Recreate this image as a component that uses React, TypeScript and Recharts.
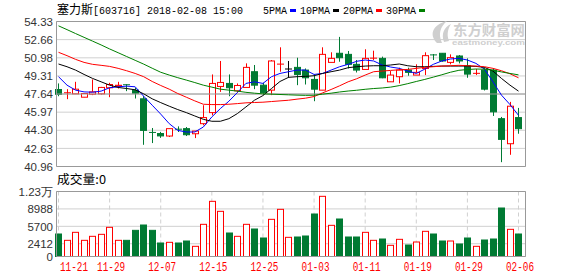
import React from "react";
import {
	ComposedChart,
	Bar,
	Line,
	XAxis,
	YAxis,
	CartesianGrid,
	ReferenceLine,
} from "recharts";

// trading days shown on the chart
const DATES = [
	"11-21", "11-22", "11-23", "11-24", "11-27", "11-28", "11-29", "11-30", "12-01", "12-04",
	"12-05", "12-06", "12-07", "12-08", "12-11", "12-12", "12-13", "12-14", "12-15", "12-18",
	"12-19", "12-20", "12-21", "12-22", "12-25", "12-26", "12-27", "12-28", "12-29", "01-02",
	"01-03", "01-04", "01-05", "01-08", "01-09", "01-10", "01-11", "01-12", "01-15", "01-16",
	"01-17", "01-18", "01-19", "01-22", "01-23", "01-24", "01-25", "01-26", "01-29", "01-30",
	"01-31", "02-01", "02-02", "02-05", "02-06",
];

const OPEN = [
	48.06, 47.7, 47.66, 47.35, 47.63, 47.66, 48.22, 48.35, 48.5, 48.0,
	47.2, 44.1, 44.0, 43.77, 44.4, 44.45, 43.98, 44.91, 45.93, 48.34,
	48.62, 47.94, 48.25, 49.7, 48.46, 48.0, 50.35, 49.95, 50.1, 49.85,
	48.99, 48.0, 50.56, 51.4, 51.3, 50.38, 49.91, 50.9, 50.93, 48.77,
	49.24, 49.85, 49.39, 50.0, 51.25, 51.4, 50.56, 51.15, 50.25, 49.5,
	49.85, 49.85, 45.37, 43.06, 45.47,
];
const HIGH = [
	48.62, 48.09, 48.77, 47.69, 48.99, 48.3, 48.68, 48.77, 48.55, 48.22,
	47.45, 44.51, 44.15, 44.45, 44.66, 44.6, 44.23, 46.61, 49.45, 50.69,
	49.45, 48.62, 50.47, 50.32, 48.68, 50.78, 51.95, 50.69, 50.99, 50.0,
	49.45, 51.95, 51.49, 52.91, 51.61, 50.78, 51.77, 51.64, 51.09, 49.76,
	50.07, 50.07, 50.38, 51.49, 51.33, 51.4, 51.3, 51.24, 50.93, 49.94,
	50.1, 50.01, 45.53, 46.92, 46.36,
];
const LOW = [
	47.44, 47.17, 47.66, 47.35, 47.54, 47.6, 47.35, 48.15, 47.91, 47.23,
	42.96, 43.12, 43.6, 43.68, 44.14, 43.77, 43.58, 44.76, 45.68, 47.84,
	47.44, 47.78, 48.25, 48.09, 47.54, 47.54, 49.7, 49.14, 48.46, 48.52,
	46.98, 48.0, 50.56, 50.62, 50.0, 49.63, 49.91, 50.78, 49.1, 48.77,
	48.62, 49.33, 49.39, 49.39, 50.78, 50.62, 50.38, 50.47, 49.14, 49.39,
	47.97, 45.62, 41.36, 42.04, 43.98,
];
const CLOSE = [
	47.62, 47.76, 48.09, 47.69, 47.84, 48.25, 48.52, 48.45, 48.45, 47.72,
	44.29, 44.05, 43.78, 44.45, 44.35, 43.89, 44.23, 45.47, 48.62, 48.71,
	48.22, 48.43, 50.1, 48.46, 47.78, 50.69, 50.4, 49.95, 49.45, 49.14,
	48.09, 51.3, 50.93, 50.99, 50.38, 49.85, 50.93, 50.95, 49.14, 49.39,
	49.85, 49.64, 49.64, 51.18, 51.2, 50.69, 51.0, 50.69, 49.48, 49.55,
	48.09, 46.0, 43.46, 46.52, 44.45,
];
const VOLUME = [
	4249, 3054, 4565, 3054, 3809, 4187, 5509, 3054, 3054, 4942,
	5949, 4942, 2550, 2676, 2550, 2927, 1921, 6076, 10419, 8531,
	4438, 3809, 6076, 5194, 3494, 7020, 8908, 3620, 3683, 3872,
	8027, 11364, 5887, 7082, 3683, 3683, 4565, 3054, 3305, 2110,
	3243, 2172, 2738, 4754, 4249, 2927, 2927, 2361, 3494, 1921,
	3116, 3305, 9160, 5131, 4249,
];

const MA5 = [
	49.24, 48.46, 48.0, 47.84, 47.81, 47.91, 48.22, 48.31, 48.37, 48.31,
	47.44, 46.61, 45.79, 44.91, 44.29, 44.14, 44.14, 44.6, 45.53, 46.3,
	46.98, 47.78, 48.62, 48.77, 48.62, 49.24, 49.54, 49.7, 49.85, 49.85,
	49.45, 49.54, 49.85, 50.16, 50.38, 50.66, 50.78, 50.69, 50.32, 50.13,
	50.01, 49.76, 49.54, 49.94, 50.38, 50.69, 50.87, 50.93, 50.78, 50.47,
	49.94, 48.77, 47.54, 46.67, 45.68,
];
const MA10 = [
	50.41, 50.16, 49.85, 49.45, 49.08, 48.77, 48.46, 48.25, 48.15, 48.03,
	47.66, 47.2, 46.85, 46.52, 46.21, 45.93, 45.62, 45.31, 45.13, 45.13,
	45.37, 45.84, 46.45, 47.07, 47.5, 48.15, 48.8, 49.18, 49.24, 49.27,
	49.33, 49.54, 49.7, 49.85, 50.07, 50.16, 50.22, 50.25, 50.25, 50.32,
	50.41, 50.25, 50.16, 50.16, 50.19, 50.22, 50.22, 50.22, 50.22, 50.19,
	50.1, 49.76, 49.08, 48.46, 47.91,
];
const MA20 = [
	51.49, 51.18, 50.84, 50.56, 50.38, 50.29, 50.19, 50.01, 49.79, 49.54,
	49.24, 48.8, 48.43, 48.09, 47.69, 47.35, 47.01, 46.7, 46.67, 46.67,
	46.7, 46.76, 46.83, 46.86, 46.89, 46.95, 47.01, 47.07, 47.17, 47.26,
	47.41, 47.75, 48.06, 48.4, 48.77, 49.05, 49.39, 49.7, 49.76, 49.82,
	49.88, 49.91, 50.01, 50.1, 50.16, 50.22, 50.25, 50.29, 50.25, 50.22,
	50.16, 50.01, 49.79, 49.51, 49.14,
];
const MA30 = [
	53.93, 53.58, 53.22, 52.87, 52.52, 52.17, 51.8, 51.45, 51.1, 50.75,
	50.4, 50.02, 49.65, 49.39, 49.15, 48.93, 48.7, 48.46, 48.28, 48.09,
	48.0, 47.91, 47.8, 47.72, 47.66, 47.63, 47.6, 47.57, 47.54, 47.52,
	47.53, 47.63, 47.72, 47.83, 47.92, 47.99, 48.08, 48.15, 48.2, 48.28,
	48.42, 48.6, 48.8, 48.99, 49.2, 49.42, 49.65, 49.83, 49.9, 49.95,
	49.93, 49.84, 49.68, 49.54, 49.41,
];

const PRICE_TICKS = [40.96, 42.63, 44.3, 45.97, 47.64, 49.31, 50.98, 52.66, 54.33];
const VOL_TICKS = [0, 2412, 5700, 8988, 12276];
const DATE_TICKS = [0, 6, 12, 18, 24, 30, 36, 42, 48, 54];
const MID_PRICE = 47.645;
const X_DOMAIN: [number, number] = [-0.235, 54.82];

const LEGEND = [
	{ key: "ma5", label: "5PMA", color: "#0000ff" },
	{ key: "ma10", label: "10PMA", color: "#000000" },
	{ key: "ma20", label: "20PMA", color: "#ff0000" },
	{ key: "ma30", label: "30PMA", color: "#008000" },
];

const RED = "#ff0000";
const GREEN = "#007a33";
const GRID = "#d0d0d0";
const BORDER = "#999999";
const MARK = "#cfcfcf";
const MONO = "'Liberation Mono', 'DejaVu Sans Mono', monospace";
const SANS = "'Liberation Sans', Arial, sans-serif";
const CJK = "'Noto Sans CJK SC', sans-serif";

const data = DATES.map((d, i) => ({
	idx: i,
	date: d,
	open: OPEN[i],
	high: HIGH[i],
	low: LOW[i],
	close: CLOSE[i],
	range: [LOW[i], HIGH[i]],
	vol: VOLUME[i],
	ma5: MA5[i],
	ma10: MA10[i],
	ma20: MA20[i],
	ma30: MA30[i],
}));

const snap = (v: number) => Math.round(v - 0.5) + 0.5;

const Candle = (props: any) => {
	const { x, y, width, height, payload } = props;
	const { open, close, high, low } = payload;
	const top = Math.min(y, y + height);
	const span = Math.abs(height);
	const py = (p: number) => top + ((high - p) / (high - low)) * span;
	const cx = snap(x + width / 2);
	const color = close > open ? RED : close < open ? GREEN : "#000";
	const bTop = py(Math.max(open, close));
	const bBot = py(Math.min(open, close));
	const flat = bBot - bTop < 1;
	return (
		<g>
			<line x1={cx} x2={cx} y1={top} y2={top + span} stroke={color} />
			{flat ? (
				<line x1={cx - 3.5} x2={cx + 3.5} y1={bTop} y2={bTop} stroke={color} />
			) : (
				<rect
					x={cx - 3}
					y={bTop}
					width={6}
					height={bBot - bTop}
					fill={close > open ? "#fff" : color}
					stroke={color}
				/>
			)}
		</g>
	);
};

const VolBar = (props: any) => {
	const { x, y, width, height, payload } = props;
	const cx = snap(x + width / 2);
	const up = payload.close >= payload.open;
	const color = up ? RED : GREEN;
	return (
		<rect
			x={cx - 3}
			y={y}
			width={6}
			height={Math.max(height, 0)}
			fill={up ? "#fff" : color}
			stroke={color}
		/>
	);
};

const PriceTick = ({ x, y, payload }: any) => (
	<text x={x - 3.5} y={y + 4.2} textAnchor="end" fontSize={11.5} fontFamily={SANS} fill="#333">
		{Number(payload.value).toFixed(2)}
	</text>
);

const VolTick = ({ x, y, payload }: any) => {
	const v = Number(payload.value);
	const label = v >= 10000 ? `${(v / 10000).toFixed(2)}万` : String(v);
	return (
		<text x={x - 3.5} y={y + 4.2} textAnchor="end" fontSize={11.5} fontFamily={SANS} fill="#333">
			{label}
		</text>
	);
};

const DateTick = ({ x, y, payload }: any) => {
	const first = payload.value === DATE_TICKS[0];
	return (
		<text
			x={x + 1.5}
			y={y + 14.5}
			textAnchor={first ? "start" : "middle"}
			fontSize={12}
			fontFamily={MONO}
			fill={RED}
			textLength={28}
			lengthAdjust="spacingAndGlyphs"
		>
			{DATES[payload.value]}
		</text>
	);
};

const Overlay = () => {
	let lx = 263;
	const items = LEGEND.map((l) => {
		const w = l.label.length * 6;
		const item = { ...l, x: lx, w };
		lx += w + 3 + 6 + 4;
		return item;
	});
	return (
		<svg
			width={578}
			height={276}
			style={{ position: "absolute", left: 0, top: 0, pointerEvents: "none" }}
		>
			<text x={57} y={14} fontSize={12} fontFamily={CJK} fill="#000">
				塞力斯
			</text>
			<text x={93} y={14} fontSize={11} fontFamily={MONO} fill="#000" textLength={150} lengthAdjust="spacingAndGlyphs">
				[603716] 2018-02-08 15:00
			</text>
			{items.map((it) => (
				<g key={it.key}>
					<text x={it.x} y={14} fontSize={11} fontFamily={MONO} fill="#000" textLength={it.w} lengthAdjust="spacingAndGlyphs">
						{it.label}
					</text>
					<rect x={it.x + it.w + 3} y={9} width={6} height={3} fill={it.color} />
				</g>
			))}
			<path d="M437 43 C429 35 432 25 447 21 C440 27 438 34 442 43 Z" fill={MARK} />
			<path d="M444 42 C441 34 444 27 451 24 C447 30 447 36 449 41 Z" fill={MARK} />
			<text x={453} y={35} fontSize={14} fontWeight="bold" fontFamily={CJK} fill={MARK} textLength={72} lengthAdjust="spacingAndGlyphs">
				东方财富网
			</text>
			<text x={452} y={45} fontSize={8} fontWeight="bold" fontFamily={SANS} fill={MARK} textLength={73} lengthAdjust="spacingAndGlyphs">
				eastmoney.com
			</text>
			<text x={57} y={183.5} fontSize={12} fontFamily={CJK} fill="#000" textLength={49} lengthAdjust="spacingAndGlyphs">
				成交量:0
			</text>
		</svg>
	);
};

export default function App() {
	return (
		<div style={{ position: "absolute", left: 0, top: 0, width: 578, height: 276, background: "#fff" }}>
			<div style={{ position: "absolute", left: 0, top: 0 }}>
				<ComposedChart
					width={578}
					height={176}
					data={data}
					margin={{ top: 21.5, right: 52.5, bottom: 9.5, left: 0.5 }}
				>
					<CartesianGrid vertical={false} stroke={GRID} />
					<CartesianGrid horizontal={false} stroke={GRID} strokeDasharray="4 3" />
					<XAxis
						type="number"
						dataKey="idx"
						domain={X_DOMAIN}
						ticks={DATE_TICKS}
						tick={false}
						axisLine={false}
						tickLine={false}
						height={0}
						interval={0}
					/>
					<YAxis
						type="number"
						domain={[PRICE_TICKS[0], PRICE_TICKS[PRICE_TICKS.length - 1]]}
						ticks={PRICE_TICKS}
						interval={0}
						width={56}
						tickSize={0}
						tickMargin={0}
						tickLine={false}
						axisLine={{ stroke: BORDER }}
						tick={<PriceTick />}
					/>
					<ReferenceLine y={MID_PRICE} stroke={BORDER} />
					<ReferenceLine y={PRICE_TICKS[0]} stroke={BORDER} />
					<ReferenceLine y={PRICE_TICKS[PRICE_TICKS.length - 1]} stroke={BORDER} />
					<ReferenceLine x={X_DOMAIN[1]} stroke={BORDER} />
					<Bar dataKey="range" barSize={7} shape={<Candle />} isAnimationActive={false} />
					{LEGEND.map((l) => (
						<Line
							key={l.key}
							type="linear"
							dataKey={l.key}
							stroke={l.color}
							strokeWidth={1}
							dot={false}
							activeDot={false}
							isAnimationActive={false}
						/>
					))}
				</ComposedChart>
			</div>
			<div style={{ position: "absolute", left: 0, top: 170 }}>
				<ComposedChart
					width={578}
					height={106}
					data={data}
					margin={{ top: 21.5, right: 52.5, bottom: 0, left: 0.5 }}
				>
					<CartesianGrid vertical={false} stroke={GRID} />
					<CartesianGrid horizontal={false} stroke={GRID} strokeDasharray="4 3" />
					<XAxis
						type="number"
						dataKey="idx"
						domain={X_DOMAIN}
						ticks={DATE_TICKS}
						interval={0}
						height={19.5}
						tickSize={0}
						tickMargin={0}
						tickLine={false}
						axisLine={false}
						tick={<DateTick />}
					/>
					<YAxis
						type="number"
						domain={[VOL_TICKS[0], VOL_TICKS[VOL_TICKS.length - 1]]}
						ticks={VOL_TICKS}
						interval={0}
						width={56}
						tickSize={0}
						tickMargin={0}
						tickLine={false}
						axisLine={{ stroke: BORDER }}
						tick={<VolTick />}
					/>
					<ReferenceLine y={VOL_TICKS[0]} stroke={BORDER} />
					<ReferenceLine y={VOL_TICKS[VOL_TICKS.length - 1]} stroke={BORDER} />
					<ReferenceLine x={X_DOMAIN[1]} stroke={BORDER} />
					<Bar dataKey="vol" barSize={7} shape={<VolBar />} isAnimationActive={false} />
				</ComposedChart>
			</div>
			<Overlay />
		</div>
	);
}
